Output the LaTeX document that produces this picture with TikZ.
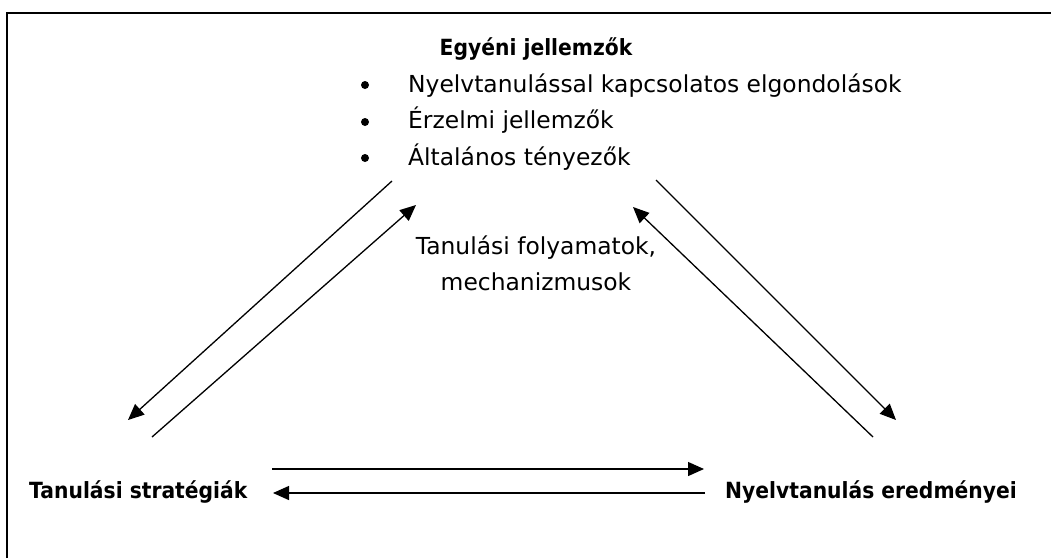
\documentclass[tikz,border=0pt]{standalone}
\usepackage{fontspec}
\setmainfont{DejaVu Sans}
\newfontfamily\hdfont[FakeStretch=0.91]{DejaVu Sans Bold}
\usetikzlibrary{arrows.meta}
\begin{document}
\begin{tikzpicture}[x=1pt,y=-1pt,
  txt/.style={inner sep=0pt,font=\fontsize{23.4}{28}\selectfont},
  bold/.style={inner sep=0pt,font=\hdfont\fontsize{22.3}{26}\selectfont},
  dot/.style={circle,fill=black,inner sep=0pt,minimum size=8pt},
  conn/.style={line width=1.3pt,-{Triangle[length=16pt,width=14pt]}}]
\useasboundingbox (0,0) rectangle (1051,558);
\fill[white] (0,0) rectangle (1051,558);
\draw[line width=1.6pt] (7,558) -- (7,13) -- (1051,13);
% top block
\node[bold,anchor=base] (title) at (536,55) {Egyéni jellemzők};
\node[txt,anchor=base west] (b1) at (408,92) {Nyelvtanulással kapcsolatos elgondolások};
\node[txt,anchor=base west] (b2) at (408,128) {Érzelmi jellemzők};
\node[txt,anchor=base west] (b3) at (408,165) {Általános tényezők};
\node[dot] (d1) at (365,85) {};
\node[dot] (d2) at (365,122) {};
\node[dot] (d3) at (365,158) {};
% center
\node[txt,anchor=base] (c1) at (536,254) {Tanulási folyamatok,};
\node[txt,anchor=base] (c2) at (536,290) {mechanizmusok};
% corners
\node[bold,anchor=base west] (ts) at (29,498) {Tanulási stratégiák};
\node[bold,anchor=base east] (ne) at (1017,498) {Nyelvtanulás eredményei};
% coordinates
\coordinate (l1s) at (392,181);
\coordinate (l1e) at (128,420);
\coordinate (l2s) at (152,437);
\coordinate (l2e) at (416,205);
\coordinate (r1s) at (656,180);
\coordinate (r1e) at (896,420);
\coordinate (r2s) at (873,437);
\coordinate (r2e) at (633,207);
\coordinate (h1s) at (272,469);
\coordinate (h1e) at (704,469);
\coordinate (h2s) at (705,493);
\coordinate (h2e) at (273,493);
\draw[conn] (l1s) -- (l1e);
\draw[conn] (l2s) -- (l2e);
\draw[conn] (r1s) -- (r1e);
\draw[conn] (r2s) -- (r2e);
\draw[conn] (h1s) -- (h1e);
\draw[conn] (h2s) -- (h2e);
\end{tikzpicture}
\end{document}
